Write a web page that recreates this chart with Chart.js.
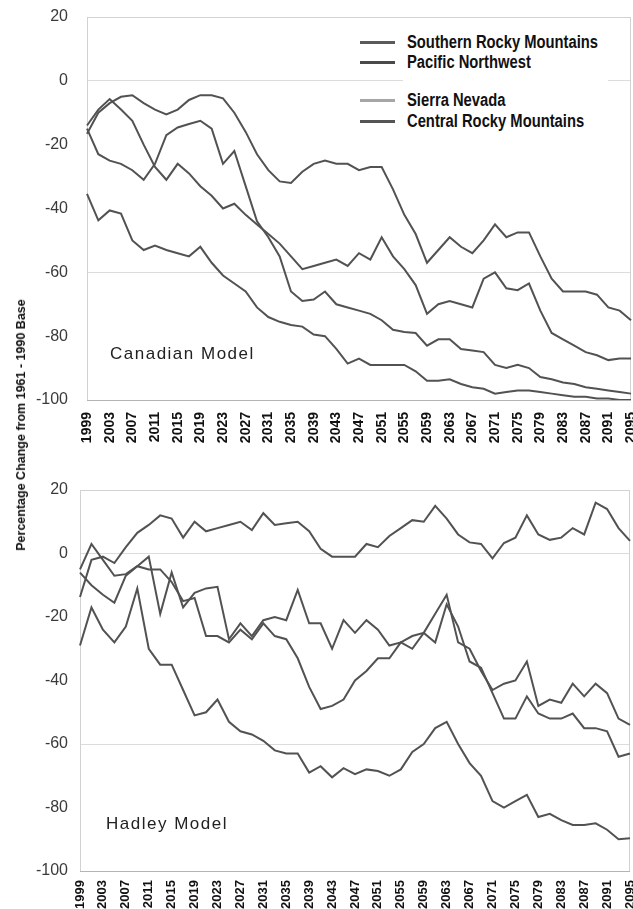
<!DOCTYPE html>
<html lang="en">
<head>
<meta charset="UTF-8" />
<title>Snowpack Change</title>
<script src="https://cdn.jsdelivr.net/npm/chart.js"></script>
<style>
  body { margin: 0; width: 633px; height: 909px; position: relative; background: #fff; overflow: hidden;
         font-family: "Liberation Sans", Arial, sans-serif; }
  canvas { position: absolute; left: 0; }
  #topChart { top: 0; }
  #bottomChart { top: 445px; }
  .model { position: absolute; font-size: 17px; letter-spacing: 1.5px; color: #222; line-height: 1; }
  #ytitle { position: absolute; left: 21px; top: 425px; transform: translate(-50%, -50%) rotate(-90deg);
            font-weight: bold; font-size: 12.5px; white-space: nowrap; color: #111; }
  #legendBox { position: absolute; left: 403px; top: 30px; width: 205px; height: 103px; background: #fff; }
  .swatch { position: absolute; left: 360px; width: 35px; height: 3px; }
  .ltext { position: absolute; left: 407px; font-weight: bold; font-size: 18px; line-height: 18px; color: #111;
           white-space: nowrap; transform: scaleX(0.82); transform-origin: left center; }
</style>
</head>
<body>
<canvas id="topChart" width="633" height="445"></canvas>
<canvas id="bottomChart" width="633" height="464"></canvas>
<div id="ytitle">Percentage Change from 1961 - 1990 Base</div>
<div class="model" style="left:110px; top:345px;">Canadian Model</div>
<div class="model" style="left:106px; top:815px;">Hadley Model</div>
<div id="legendBox"></div>
<div id="legend"></div>
<script>
  // years every 2 years, label every 4
  const years = [];
  for (let y = 1999; y <= 2095; y += 2) years.push(String(y));

  const seriesNames = ["Southern Rocky Mountains", "Pacific Northwest", "Sierra Nevada", "Central Rocky Mountains"];

  // Canadian model
  const canSouthernRocky = [-16.6, -10, -7, -5, -4.5, -7, -9, -10.5, -9, -6, -4.5, -4.5, -5.5, -10, -16, -23, -28, -31.5, -32, -28.5,
    -26, -25, -26, -26, -28, -27, -27, -34, -42, -48, -57, -53, -49, -52, -54, -50, -45, -49, -47.5, -47.5,
    -55, -62, -66, -66, -66, -67, -71, -72, -75];
  const canPacificNW = [-14, -9, -5.7, -9, -12.5, -20, -27, -31, -26, -29, -33, -36, -40, -38.5, -42, -45, -48, -51, -55, -59,
    -58, -57, -56, -58, -54, -56, -49, -55, -59, -64, -73, -70, -69, -70, -71, -62, -60, -65, -65.6, -63.5,
    -72, -79, -81, -83, -85, -86, -87.5, -87, -87];
  const canSierraNevada = [-15, -23, -25, -26, -28, -31, -26, -17, -14.6, -13.5, -12.5, -15, -26, -22, -33, -44, -49, -55, -66, -69,
    -68.5, -66, -70, -71, -72, -73, -75, -78, -78.7, -79, -83, -81, -81, -84, -84.5, -85, -89, -90, -89, -90,
    -92.8, -93.5, -94.5, -95, -96, -96.5, -97, -97.5, -98];
  const canCentralRocky = [-35.4, -43.7, -40.6, -41.6, -50, -53, -51.6, -53, -54, -55, -52, -57, -61, -63.5, -66, -71, -74, -75.5, -76.5, -77,
    -79.5, -80, -84, -88.6, -87, -89, -89, -89, -89, -91, -94, -94, -93.5, -95, -96, -96.5, -98, -97.5, -97, -97,
    -97.5, -98, -98.5, -99, -99, -99.5, -99.5, -100, -100];

  // Hadley model
  const hadSouthernRocky = [-6, -10, -13, -15.5, -7, -4, -1, -19, -6, -17, -12.4, -11, -10.5, -27, -22, -26, -21, -20, -21, -11.5,
    -22, -22, -30, -21, -25, -21, -24, -29, -28, -26, -25, -28, -16, -23, -34, -36, -44, -52, -52, -45,
    -50.4, -52, -52, -50.4, -55, -55, -56, -64, -63];
  const hadPacificNW = [-13.7, -2, -1, -3, 2, 6.5, 9, 12, 11, 5, 10, 7, 8, 9, 10, 7.4, 12.7, 9, 9.5, 10,
    7, 1.5, -1, -1, -1, 3, 2, 5.5, 8, 10.5, 10, 15, 11, 6, 3.5, 3, -1.5, 3.3, 5, 12,
    6, 4.3, 5, 8, 6, 16, 14, 8, 4];
  const hadSierraNevada = [-5, 3, -2, -7, -6.5, -4, -5, -5, -9, -15, -14, -26, -26, -28, -24, -27, -22, -26, -27, -33,
    -42, -49, -48, -46, -40, -37, -33, -33, -28, -30, -25, -19, -13, -28, -30, -37, -43, -41, -40, -34,
    -48, -46, -47, -41, -45, -41, -44, -52, -54];
  const hadCentralRocky = [-29, -17, -24, -28, -23, -11, -30, -35, -35, -43, -51, -50, -46, -53, -56, -57, -59, -62, -63, -63,
    -69, -67, -70.5, -67.6, -69.5, -68, -68.5, -70, -68, -62.5, -60, -55, -53, -60, -66, -70, -78, -80, -78, -76,
    -83, -82, -84, -85.5, -85.5, -85, -87, -90, -89.7];

  const yTicks = [20, 0, -20, -40, -60, -80, -100];

  const lineColor = "#525252";
  const swatchColors = ["#5a5a5a", "#4a4a4a", "#a6a6a6", "#555555"];

  // simple frame round the plot area
  const framePlugin = {
    id: "frame",
    beforeDatasetsDraw(chart) {
      const a = chart.chartArea, ctx = chart.ctx;
      ctx.save();
      ctx.strokeStyle = "#d2d2d2";
      ctx.lineWidth = 1;
      ctx.strokeRect(a.left + 0.5, a.top + 0.5, a.right - a.left - 1, a.bottom - a.top);
      ctx.strokeStyle = "#b4b4b4";
      ctx.beginPath();
      ctx.moveTo(a.left, a.bottom + 0.5);
      ctx.lineTo(a.right, a.bottom + 0.5);
      ctx.stroke();
      ctx.restore();
    },
  };

  function makeChart(id, values, o) {
    return new Chart(document.getElementById(id), {
      type: "line",
      data: {
        labels: years,
        datasets: values.map((v, i) => ({
          label: seriesNames[i],
          data: v,
          borderColor: lineColor,
          borderWidth: 2,
          pointRadius: 0,
          tension: 0,
          fill: false,
        })),
      },
      options: {
        responsive: false,
        animation: false,
        layout: { padding: { top: o.top, right: o.right, left: 0, bottom: 0 } },
        plugins: { legend: { display: false }, tooltip: { enabled: false } },
        scales: {
          x: {
            grid: { display: false },
            border: { display: false },
            afterFit: (s) => { s.height = o.xHeight; s.paddingLeft = 0; s.paddingRight = 0; },
            ticks: {
              autoSkip: false,
              minRotation: 90,
              maxRotation: 90,
              padding: o.xPad,
              color: "#111",
              font: { family: "'Liberation Sans', Arial", size: o.xFont, weight: "bold" },
              callback: (val, i) => (i % 2 === 0 ? years[i] : ""),
            },
          },
          y: {
            min: -100,
            max: 20,
            afterFit: (s) => { s.width = o.left; s.paddingTop = 0; s.paddingBottom = 0; },
            afterBuildTicks: (s) => { s.ticks = yTicks.map((v) => ({ value: v })); },
            border: { display: false },
            grid: {
              drawTicks: false,
              color: (c) => (c.tick && (c.tick.value === 0 || c.tick.value === -60) ? "#dcdcdc" : "rgba(0,0,0,0)"),
            },
            ticks: {
              padding: o.tickPad,
              color: "#3a3a3a",
              font: { family: "'Liberation Sans', Arial", size: 16 },
            },
          },
        },
      },
      plugins: [framePlugin],
    });
  }

  makeChart("topChart", [canSouthernRocky, canPacificNW, canSierraNevada, canCentralRocky],
    { left: 87, right: 2, top: 17, xHeight: 45, tickPad: 19, xPad: 4, xFont: 14 });
  makeChart("bottomChart", [hadSouthernRocky, hadPacificNW, hadSierraNevada, hadCentralRocky],
    { left: 80, right: 3, top: 45, xHeight: 38, tickPad: 12, xPad: 1, xFont: 13 });

  // legend (rows 42, 62, 100, 121 on the page)
  const rowY = [42, 62, 100, 121];
  const legend = document.getElementById("legend");
  seriesNames.forEach((name, i) => {
    const sw = document.createElement("div");
    sw.className = "swatch";
    sw.style.top = (rowY[i] - 1.5) + "px";
    sw.style.background = swatchColors[i];
    legend.appendChild(sw);
    const t = document.createElement("div");
    t.className = "ltext";
    t.style.top = (rowY[i] - 9) + "px";
    t.textContent = name;
    legend.appendChild(t);
  });
</script>
</body>
</html>
